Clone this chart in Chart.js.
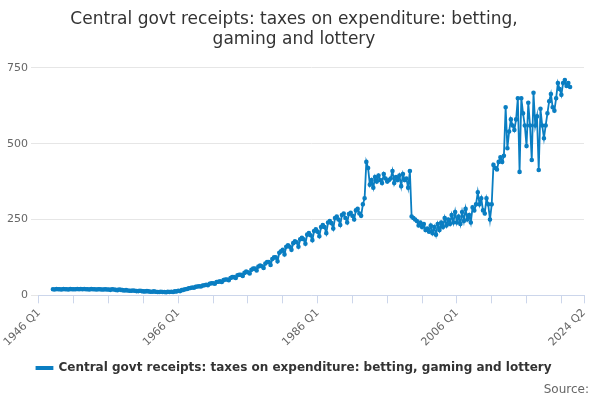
<!DOCTYPE html>
<html>
<head>
<meta charset="utf-8">
<script src="https://cdn.jsdelivr.net/npm/chart.js@4"></script>
<style>
  body { margin: 0; font-family: "DejaVu Sans", sans-serif; }
  #wrap { position: relative; width: 600px; height: 400px; }
  #src { position: absolute; right: 11px; bottom: 4px; font-size: 12px; color: #666; }
</style>
</head>
<body>
<div id="wrap">
  <canvas id="grafico" width="600" height="400"></canvas>
  <div id="src">Source:</div>
</div>
<script>
const primeiroAno = 1946;
const ultimoAno = 2024;
const ultimoTrimestre = 2;
const rotulosVisiveis = ['1946 Q1', '1966 Q1', '1986 Q1', '2006 Q1', '2024 Q2'];

// values by year, quarterly (null = no data)
const valores1946a1965 = [
  null, null, null, null,  null, null, null, null,
  20, 19, 21, 20,  20, 19, 21, 20,  20, 19, 21, 20,  20, 20, 21, 20,
  21, 20, 21, 20,  20, 19, 21, 20,  20, 19, 20, 20,  19, 19, 20, 19,
  19, 18, 20, 19,  18, 17, 19, 18,  17, 16, 17, 16,  15, 15, 16, 15,
  14, 14, 15, 14,  13, 13, 14, 13,  12, 12, 13, 12,  11, 11, 12, 11
];
const valores1966a1985 = [
  11, 10, 12, 11,  12, 11, 13, 13,  15, 14, 17, 18,  20, 21, 23, 24,
  26, 25, 28, 29,  30, 29, 32, 33,  35, 33, 38, 40,  40, 38, 44, 45,
  46, 44, 50, 52,  52, 50, 57, 60,  60, 57, 66, 68,  68, 64, 74, 78,
  76, 72, 84, 88,  88, 82, 95, 98,  96, 90, 105, 110,  110, 100, 120, 125,
  125, 112, 140, 145,  150, 135, 160, 165,  160, 150, 172, 178,  175, 160, 185, 190
];
const valores1986a2005 = [
  185, 170, 200, 205,  198, 182, 212, 218,  210, 195, 225, 232,  225, 205, 240, 245,
  238, 220, 255, 260,  250, 232, 265, 270,  255, 240, 268, 272,  262, 250, 280, 285,
  270, 262, 300, 320,  440, 420, 365, 380,  355, 390, 375, 395,  380, 370, 400, 385,
  375, 380, 385, 410,  370, 390, 380, 395,  360, 400, 380, 385,  355, 410, 260, 255,
  250, 245, 230, 240,  225, 235, 215, 220,  210, 230, 205, 225,  200, 235, 215, 240
];
const valores2006a2024 = [
  225, 255, 230, 250,  235, 265, 240, 275,  240, 260, 235, 275,  245, 285, 250, 265,
  240, 290, 280, 300,  340, 300, 320, 280,  270, 320, 300, 250,  300, 430, 420, 415,
  440, 455, 440, 460,  620, 485, 540, 580,  560, 545, 580, 650,  407, 650, 600, 560,
  492, 635, 560, 446,  668, 560, 590, 413,  615, 560, 518, 560,  600, 640, 664, 620,
  609, 650, 700, 680,  661, 700, 710, 690,  700, 687
];
const valores = [...valores1946a1965, ...valores1966a1985, ...valores1986a2005, ...valores2006a2024];

const rotulos = [];
for (let a = primeiroAno; a <= ultimoAno; a++) {
  for (let q = 1; q <= 4; q++) {
    if (a === ultimoAno && q > ultimoTrimestre) break;
    rotulos.push(`${a} Q${q}`);
  }
}

const ctx = document.getElementById('grafico').getContext('2d');
new Chart(ctx, {
  type: 'line',
  data: {
    labels: rotulos,
    datasets: [{
      label: 'Central govt receipts: taxes on expenditure: betting, gaming and lottery',
      data: valores,
      borderColor: '#0a7ec2',
      backgroundColor: '#0a7ec2',
      borderWidth: 1.8,
      pointRadius: 1.4,
      pointHoverRadius: 3,
      tension: 0,
      fill: false
    }]
  },
  options: {
    animation: false,
    responsive: false,
    layout: { padding: { left: 4, right: 16, bottom: 16 } },
    plugins: {
      title: {
        display: true,
        text: ['Central govt receipts: taxes on expenditure: betting,', 'gaming and lottery'],
        color: '#333',
        font: { family: 'DejaVu Sans', size: 17, weight: 'normal' },
        padding: { top: 9, bottom: 12 }
      },
      legend: {
        position: 'bottom',
        labels: {
          color: '#333',
          font: { family: 'DejaVu Sans', size: 12, weight: 'bold' },
          boxWidth: 16, boxHeight: 2
        }
      }
    },
    scales: {
      x: {
        type: 'category',
        grid: {
          drawOnChartArea: false,
          tickLength: 8,
          color: (c) => (c.index % 20 === 0 || c.index === rotulos.length - 1) ? '#ccd6eb' : 'rgba(0,0,0,0)'
        },
        border: { color: '#ccd6eb' },
        ticks: {
          autoSkip: false,
          maxRotation: 45,
          minRotation: 45,
          color: '#666',
          font: { family: 'DejaVu Sans', size: 11 },
          callback: function (v, i) {
            const r = rotulos[i];
            return rotulosVisiveis.includes(r) ? r : '';
          }
        }
      },
      y: {
        min: 0,
        max: 770,
        grid: { color: '#e6e6e6' },
        border: { display: false },
        ticks: {
          color: '#666',
          font: { family: 'DejaVu Sans', size: 11 },
          callback: (v) => v
        },
        afterBuildTicks: (ax) => { ax.ticks = [0, 250, 500, 750].map(v => ({ value: v })); }
      }
    }
  }
});
</script>
</body>
</html>
